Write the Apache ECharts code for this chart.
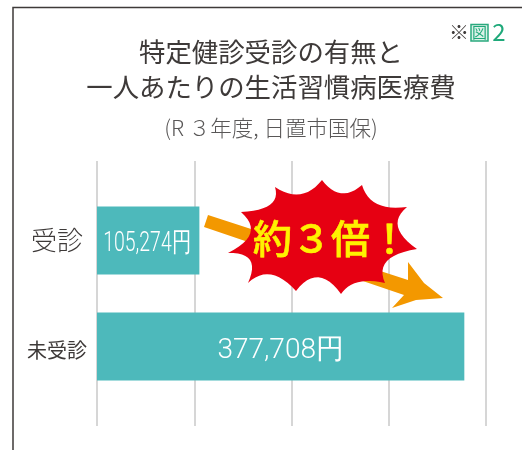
<!DOCTYPE html>
<html>
<head>
<meta charset="utf-8">
<style>html,body{margin:0;padding:0;background:#fff}#main{width:522px;height:450px}</style>
<script src="https://cdn.jsdelivr.net/npm/echarts@6/dist/echarts.min.js"></script>
</head>
<body>
<div id="main"></div>
<script>
// blank categories keep the bars off the ends of the gridlines
var categories = ['', '受診', '', '未受診', ''];
var values = [null, 105274, null, 377708, null];
var titleLines = ['特定健診受診の有無と', '一人あたりの生活習慣病医療費'];
var subTitle = '(R ３年度, 日置市国保)';

var font = '"Noto Sans CJK JP"';
var textColor = '#3e3a39';

var myChart = echarts.init(document.getElementById('main'), null, {renderer: 'canvas'});

// burst outline: start point, then [control x, control y, end x, end y] for each concave edge
var burstStart = [275, 187];
var burstEdges = [
    [302, 205, 322, 180], [340, 204, 362, 185], [370, 212, 407, 207],
    [384, 226, 417, 249], [373, 256, 385, 283], [353, 276, 341, 294],
    [318, 262, 296, 291], [270, 262, 248, 283], [262, 252, 228, 253],
    [266, 234, 241, 212], [282, 210, 275, 187]
];

function curvePoints(start, edges) {
    var pts = [start];
    var p = start;
    edges.forEach(function (e) {
        for (var t = 1; t <= 12; t++) {
            var s = t / 12;
            pts.push([
                (1 - s) * (1 - s) * p[0] + 2 * s * (1 - s) * e[0] + s * s * e[2],
                (1 - s) * (1 - s) * p[1] + 2 * s * (1 - s) * e[1] + s * s * e[3]
            ]);
        }
        p = [e[2], e[3]];
    });
    return pts;
}

function yen(v) {
    return v.toLocaleString('en-US') + '円';
}

var arrowPoints = [[208, 215], [408, 280], [408, 262], [424, 283], [443, 298], [416, 300], [392, 308], [404, 295], [204, 227]];

var option = {
    animation: false,
    grid: {left: 97, right: 36, top: 161, bottom: 24},
    xAxis: {
        type: 'value',
        min: 0,
        max: 400000,
        interval: 100000,
        axisLine: {show: false},
        axisTick: {show: false},
        axisLabel: {show: false},
        splitLine: {show: true, lineStyle: {color: '#c9c9c9', width: 1.5}}
    },
    yAxis: {
        type: 'category',
        inverse: true,
        data: categories,
        axisLine: {show: false},
        axisTick: {show: false},
        axisLabel: {
            align: 'center',
            margin: 40,
            interval: 0,
            formatter: function (v) {
                return v === '受診' ? '{a|' + v + '}' : '{b|' + v + '}';
            },
            rich: {
                a: {fontFamily: font, fontWeight: 300, fontSize: 26, color: textColor},
                b: {fontFamily: font, fontWeight: 400, fontSize: 20, color: textColor, padding: [8, 0, 0, 0]}
            }
        }
    },
    series: [{
        type: 'bar',
        barWidth: 68,
        data: values,
        itemStyle: {color: '#4db9bb'},
        label: {
            show: true,
            position: 'inside',
            offset: [0, 4],
            color: '#fff',
            fontFamily: 'Roboto',
            fontWeight: 300,
            fontSize: 28,
            formatter: function (p) {
                // the short bar gets its squeezed label below
                return p.value < 200000 ? '' : yen(p.value);
            }
        }
    }],
    graphic: [
        // frame
        {type: 'polyline', z: 1, shape: {points: [[522, 7.5], [13, 7.5], [13, 450]]},
            style: {stroke: '#3e3a39', lineWidth: 1.5, fill: null}},
        // title
        {type: 'text', x: 271, y: 52, style: {text: titleLines[0], font: '400 26.4px ' + font, fill: textColor, align: 'center', verticalAlign: 'middle'}},
        {type: 'text', x: 271, y: 87, style: {text: titleLines[1], font: '400 26.4px ' + font, fill: textColor, align: 'center', verticalAlign: 'middle'}},
        {type: 'text', x: 271, y: 128, style: {text: subTitle, font: '300 21.5px ' + font, fill: '#595757', align: 'center', verticalAlign: 'middle'}},
        // ※図2
        {type: 'text', x: 459, y: 32, style: {text: '※', font: '20px ' + font, fill: textColor, align: 'center', verticalAlign: 'middle'}},
        {type: 'rect', shape: {x: 471, y: 24.5, width: 17, height: 16.5}, style: {fill: '#dcf1e8', stroke: '#2aa97e', lineWidth: 1.5}},
        {type: 'text', x: 479.5, y: 32.5, style: {text: '図', font: '15px ' + font, fill: '#1fa97a', align: 'center', verticalAlign: 'middle'}},
        {type: 'text', x: 499, y: 32, style: {text: '2', font: '24px ' + font, fill: '#1fa97a', align: 'center', verticalAlign: 'middle'}},
        // arrow and burst
        {type: 'polygon', z: 10, shape: {points: arrowPoints}, style: {fill: '#f39800'}},
        {type: 'polygon', z: 11, shape: {points: curvePoints(burstStart, burstEdges)}, style: {fill: '#e60012'}},
        {type: 'text', z: 12, x: 331, y: 238, style: {text: '約３倍！', font: '500 39px ' + font, fill: '#fff100', stroke: '#fff100', lineWidth: 0.6, align: 'center', verticalAlign: 'middle'}}
    ]
};

myChart.setOption(option);

// label of the short bar is condensed in the original, series labels can't be squeezed
var barEnd = myChart.convertToPixel({xAxisIndex: 0}, values[1]);
var barStart = myChart.convertToPixel({xAxisIndex: 0}, 0);
var barMid = myChart.convertToPixel({yAxisIndex: 0}, categories[1]);
option.graphic.push({
    type: 'text',
    z: 5,
    x: (barStart + barEnd) / 2 - 1,
    y: barMid + 4,
    scaleX: 0.72,
    style: {text: yen(values[1]), font: '300 27px Roboto', fill: '#fff', align: 'center', verticalAlign: 'middle'}
});
myChart.setOption({graphic: option.graphic}, {replaceMerge: ['graphic']});
</script>
</body>
</html>
